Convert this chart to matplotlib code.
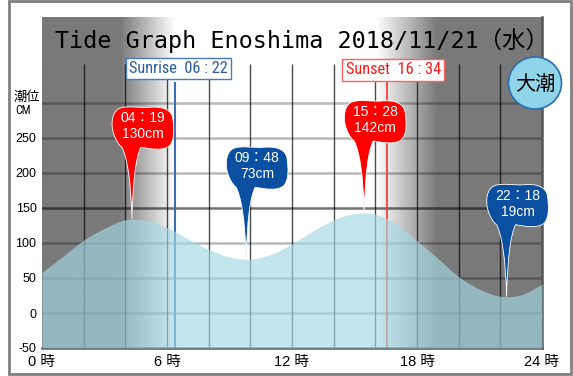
import numpy as np
import matplotlib
matplotlib.use("Agg")
import matplotlib.pyplot as plt
import matplotlib.patches as mpatches
import matplotlib.transforms as mtransforms
from matplotlib.path import Path
from matplotlib import font_manager

# hourly tide level (cm), 0h .. 24h
hours = list(range(25))
level = [58, 81, 104, 121, 133, 132, 122, 106, 91, 80, 77, 84, 99, 117,
         133, 142, 141, 127, 103, 78, 52, 34, 24, 26, 41]

tide_times = ["04:19", "09:48", "15:28", "22:18"]
tide_cm = [130, 73, 142, 19]
tide_high = [True, False, True, False]

sunrise = "06:22"
sunset = "16:34"
title = "Tide Graph Enoshima 2018/11/21（水）"
tide_name = "大潮"

yticks = [-50, 0, 50, 100, 150, 200, 250]
xticks = [0, 6, 12, 18, 24]

names = {f.name for f in font_manager.fontManager.ttflist}
narrow = next((n for n in ["Roboto Condensed", "Archivo Narrow", "Barlow Semi Condensed",
                           "Asap Condensed"] if n in names), "DejaVu Sans")
sans = ["Liberation Sans", "Noto Sans CJK JP"]
cjk = ["Noto Sans CJK JP", "DejaVu Sans"]


def to_h(s):
    hh, mm = s.split(":")
    return int(hh) + int(mm) / 60


def smooth(x, y, n=20):
    # catmull-rom through the hourly points
    y = np.asarray(y, float)
    yp = np.concatenate([[2 * y[0] - y[1]], y, [2 * y[-1] - y[-2]]])
    xs, ys = [], []
    t = np.linspace(0, 1, n, endpoint=False)
    for i in range(len(y) - 1):
        p0, p1, p2, p3 = yp[i:i + 4]
        ys.append(0.5 * (2 * p1 + (-p0 + p2) * t + (2 * p0 - 5 * p1 + 4 * p2 - p3) * t ** 2
                         + (-p0 + 3 * p1 - 3 * p2 + p3) * t ** 3))
        xs.append(x[i] + t * (x[i + 1] - x[i]))
    xs.append([x[-1]])
    ys.append([y[-1]])
    return np.concatenate(xs), np.concatenate(ys)


W, H = 573, 376
fig = plt.figure(figsize=(W / 100, H / 100), dpi=100)
ax = fig.add_axes([42 / W, 1 - 348 / H, 500 / W, 331 / H])
ytop = -50 + 331 / 0.7
ax.set_xlim(0, 24)
ax.set_ylim(-50, ytop)

sr, ss = to_h(sunrise), to_h(sunset)

# night shading
gx = np.linspace(0, 24, 800)
shade = np.interp(gx, [0, sr - 2.6, sr, ss - 0.5, ss + 2.4, 24], [122, 122, 255, 255, 122, 122])
ax.imshow(shade[None, :], cmap="gray", vmin=0, vmax=255, extent=[0, 24, -50, ytop],
          aspect="auto", interpolation="bilinear", zorder=0)

# grid
for v in range(0, 301, 50):
    ax.axhline(v, color="black", alpha=0.55 if v == 150 else 0.28, lw=1.8, zorder=1)
ax.vlines(range(2, 24, 2), -50, 355, colors="black", alpha=0.7, lw=1, zorder=1)

# sunrise / sunset
ax.vlines(sr, -50, 330, color="#3a6fb5", lw=1.5, zorder=2)
ax.vlines(ss, -50, 330, color="#ff3030", lw=1.2, zorder=2)
yb = mtransforms.blended_transform_factory(ax.transData, fig.transFigure)
ax.annotate("Sunrise  " + sunrise.replace(":", " : "), (sr, 1 - 68.5 / H), xycoords=yb,
            xytext=(4, 0), textcoords="offset pixels",
            ha="center", va="center", color="#2a5caa", fontsize=11.8, family=narrow, zorder=8,
            bbox=dict(boxstyle="square,pad=0.2", fc="white", ec="#4a7ab8", lw=1))
ax.annotate("Sunset  " + sunset.replace(":", " : "), (ss, 1 - 70 / H), xycoords=yb,
            xytext=(6, 0), textcoords="offset pixels",
            ha="center", va="center", color="#ff1a1a", fontsize=11.8, family=narrow, zorder=8,
            bbox=dict(boxstyle="square,pad=0.2", fc="white", ec="#ff6060", lw=1))

# tide curve
xs, ys = smooth(hours, level)
ax.fill_between(xs, -50, ys, color="#a4d9e5", alpha=0.65, lw=0, zorder=3)

# balloons, path in pixels relative to the tip
verts = [(0, 0),
         (1, 40), (4, 62), (9, 72),
         (20, 70), (32, 68), (38, 74),
         (43, 80), (42, 92), (41, 100),
         (40, 110), (30, 113), (18, 112),
         (8, 111), (-4, 114), (-12, 111),
         (-20, 108), (-21, 96), (-19, 88),
         (-17, 80), (-13, 74), (-10, 72),
         (-5, 62), (-1, 40), (0, 0),
         (0, 0)]
codes = [Path.MOVETO] + [Path.CURVE4] * 24 + [Path.CLOSEPOLY]
balloon = Path(verts, codes)

for t, cm, hi in zip(tide_times, tide_cm, tide_high):
    h = to_h(t)
    y = np.interp(h, xs, ys)
    col = "#ff0000" if hi else "#0b4fa0"
    tr = mtransforms.Affine2D() + mtransforms.ScaledTranslation(h, y, ax.transData)
    ax.add_patch(mpatches.PathPatch(balloon, transform=tr, fc=col, ec="white", lw=0.6,
                                    zorder=6, clip_on=False))
    ax.annotate(t.replace(":", "：") + "\n" + f"{cm}cm", (h, y), xytext=(11, 93),
                textcoords="offset pixels", ha="center", va="center", color="white",
                fontsize=10, linespacing=1.2, family=sans, zorder=7)

# axes
for s in ["left", "top"]:
    ax.spines[s].set_visible(False)
for s in ["right", "bottom"]:
    ax.spines[s].set_color("#555555")
    ax.spines[s].set_linewidth(1.8)
ax.set_yticks(yticks)
ax.set_yticklabels([str(v) for v in yticks], family=sans, fontsize=9)
ax.set_xticks(xticks)
ax.set_xticklabels([f"{v} 時" for v in xticks], family=sans, fontsize=10.5)
ax.tick_params(axis="y", length=0, pad=4)
ax.tick_params(axis="x", length=0, pad=5)

fig.text(55 / W, 1 - 41 / H, title, ha="left", va="center", fontsize=16.8,
         family=["DejaVu Sans Mono", "Noto Sans CJK JP"])
fig.text(40 / W, 1 - 97 / H, "潮位", ha="right", va="center", fontsize=9.5, family=cjk)
fig.text(15 / W, 1 - 111 / H, "CM", ha="left", va="center", fontsize=8.5, family=narrow)

fig.add_artist(mpatches.Ellipse((535 / W, 1 - 83 / H), 53 / W, 52 / H, transform=fig.transFigure,
                                fc="#8fd4e8", ec="#2c6db0", lw=1.2, zorder=6))
fig.text(535 / W, 1 - 84 / H, tide_name, ha="center", va="center", fontsize=14.5,
         family=cjk, zorder=7)

fig.add_artist(mpatches.Rectangle((9 / W, 1 - 374 / H), 562 / W, 373 / H, transform=fig.transFigure,
                                  fill=False, ec="#808080", lw=2))

fig.savefig("out.png", dpi=100)
